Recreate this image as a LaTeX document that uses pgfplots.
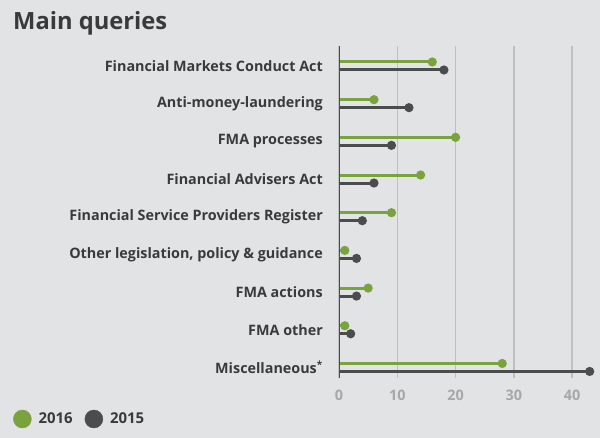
\documentclass[border=0pt]{standalone}
\usepackage{pgfplots}
\pgfplotsset{compat=1.18}
\usepackage{pgfplotstable}
\usepackage{fontspec}
\setmainfont{Open Sans}

\definecolor{bg}{HTML}{E2E3E5}
\definecolor{dgreen}{HTML}{7AA23E}
\definecolor{dgrey}{HTML}{4A4C4E}
\definecolor{gridcol}{HTML}{BEBFC1}
\definecolor{ticktxt}{HTML}{A5A7A9}
\definecolor{txt}{HTML}{3A3A3C}

% share of queries, %
\pgfplotstableread{
idx y2016 y2015
0 16 18
1 6 12
2 20 9
3 14 6
4 9 4
5 1 3
6 5 3
7 1 2
8 28 43
}\queries

\begin{document}
\begin{tikzpicture}
\useasboundingbox (0,0) rectangle (600bp,438bp);
\fill[bg] (0,0) rectangle (600bp,438bp);
\node[anchor=base west, inner sep=0pt, text=txt,
  font=\bfseries\fontsize{23.8}{28}\selectfont] at (13bp,408bp) {Main queries};
\begin{axis}[
  at={(339bp,60bp)}, anchor=south west,
  scale only axis, width=253.6bp, height=332bp,
  xmin=0, xmax=43.5, ymin=-0.53, ymax=8.28, y dir=reverse,
  axis line style={draw=none},
  major tick length=0pt,
  xtick={0,10,20,30,40},
  ytick={0,...,8},
  yticklabels={Financial Markets Conduct Act, Anti-money-laundering,
    FMA processes, Financial Advisers Act, Financial Service Providers Register,
    {Other legislation, policy \& guidance}, FMA actions, FMA other,
    Miscellaneous\textsuperscript{*}},
  xmajorgrids, grid style={gridcol, line width=1.5bp},
  /pgf/number format/assume math mode=true,
  yticklabel style={font=\bfseries\fontsize{14.4}{17}\selectfont, text=txt, inner sep=0pt, anchor=east},
  yticklabel shift=16bp,
  xticklabel style={font=\bfseries\fontsize{14.5}{17}\selectfont, text=ticktxt, inner sep=0pt, anchor=base},
  xticklabel shift=22bp,
  legend style={at={(axis description cs:-1.2855,-0.1235)}, anchor=west,
    draw=none, fill=none, inner sep=0pt, font=\bfseries\fontsize{15}{18}\selectfont,
    text=txt, legend columns=-1,
    /tikz/every even column/.append style={column sep=10bp}},
  legend cell align=left,
]
\addlegendimage{legend image code/.code={\fill[dgreen] (9bp,0bp) circle (9bp); \path (23bp,0bp);}}
\addlegendentry{2016}
\addlegendimage{legend image code/.code={\fill[dgrey] (9bp,0bp) circle (9bp); \path (23bp,0bp);}}
\addlegendentry{2015}

\addplot[forget plot, xcomb, draw=dgreen, line width=3bp, mark=*, mark size=3bp,
  mark options={fill=dgreen, draw=dgreen}, yshift=4bp] table[x=y2016, y=idx] {\queries};
\addplot[forget plot, xcomb, draw=dgrey, line width=3bp, mark=*, mark size=3bp,
  mark options={fill=dgrey, draw=dgrey}, yshift=-4bp] table[x=y2015, y=idx] {\queries};

\draw[dgrey, line width=2bp] (rel axis cs:0,0) -- (rel axis cs:0,1);
\node[anchor=base, inner sep=0pt, text=txt, font=\bfseries\fontsize{12.7}{16}\selectfont,
  yshift=-49bp] at (rel axis cs:0.462,0) {\% of queries};
\end{axis}
\end{tikzpicture}
\end{document}
